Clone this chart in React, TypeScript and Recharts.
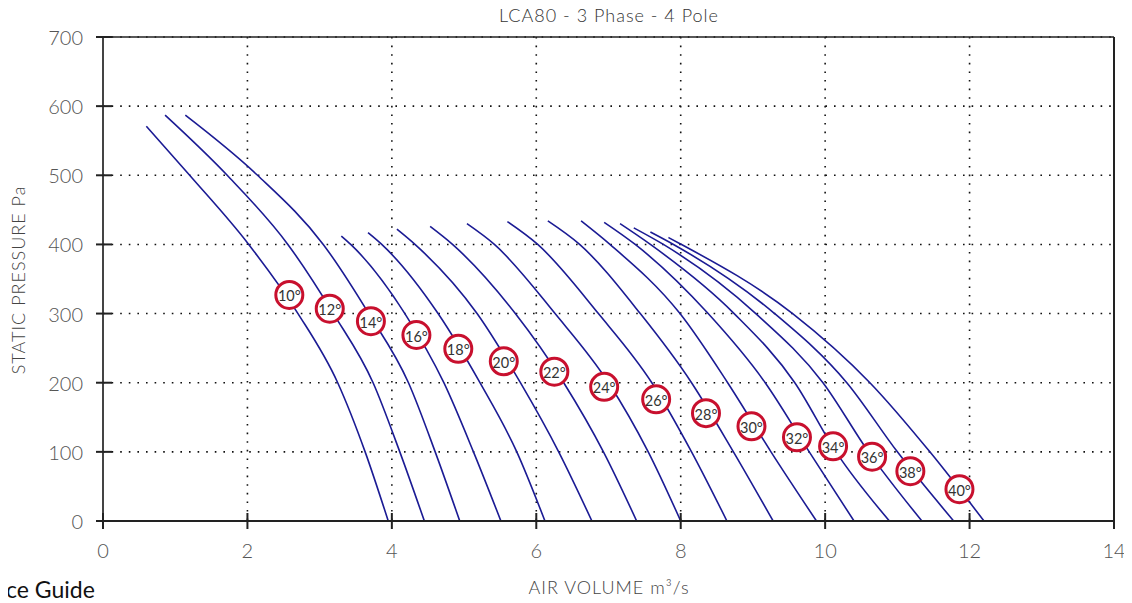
import React from 'react';
import { ComposedChart, Line, Scatter, XAxis, YAxis, CartesianGrid } from 'recharts';

// ---- data ----
const xTicks = [0, 2, 4, 6, 8, 10, 12, 14];
const yTicks = [0, 100, 200, 300, 400, 500, 600, 700];

const angleLabels = ['10°', '12°', '14°', '16°', '18°', '20°', '22°', '24°', '26°', '28°', '30°', '32°', '34°', '36°', '38°', '40°'];

// [air volume m3/s, static pressure Pa]
const c10 = [[0.6, 571], [1.2, 500], [2.01, 401], [2.7, 300], [3.25, 200], [3.63, 100], [3.95, 0]];
const c12 = [[0.86, 587], [1.72, 500], [2.56, 400], [3.19, 300], [3.74, 200], [4.11, 100], [4.45, 0]];
const c14 = [[1.14, 587], [2.14, 500], [3.05, 400], [3.68, 300], [4.23, 200], [4.6, 100], [4.94, 0]];
const c16 = [[3.3, 412], [3.43, 400], [4.18, 300], [4.72, 200], [5.13, 100], [5.51, 0]];
const c18 = [[3.67, 417], [3.86, 400], [4.64, 300], [5.22, 200], [5.73, 100], [6.12, 0]];
const c20 = [[4.07, 422], [4.32, 400], [5.18, 300], [5.78, 200], [6.31, 100], [6.77, 0]];
const c22 = [[4.53, 426], [4.84, 400], [5.71, 300], [6.38, 200], [6.93, 100], [7.39, 0]];
const c24 = [[5.04, 430], [5.42, 400], [6.26, 300], [7.0, 200], [7.55, 100], [8.0, 0]];
const c26 = [[5.6, 433], [6.02, 400], [6.86, 300], [7.6, 200], [8.15, 100], [8.64, 0]];
const c28 = [[6.16, 434], [6.6, 400], [7.44, 300], [8.15, 200], [8.73, 100], [9.28, 0]];
const c30 = [[6.62, 434], [7.02, 400], [7.99, 300], [8.65, 200], [9.25, 100], [9.88, 0]];
const c32 = [[6.94, 432], [7.37, 400], [8.38, 300], [9.17, 200], [9.78, 100], [10.4, 0]];
const c34 = [[7.16, 430], [7.58, 400], [8.74, 300], [9.58, 200], [10.15, 100], [10.89, 0]];
const c36 = [[7.35, 424], [7.76, 400], [9.04, 300], [9.97, 200], [10.6, 100], [11.34, 0]];
const c38 = [[7.58, 418], [7.9, 400], [9.3, 300], [10.3, 200], [11.0, 100], [11.78, 0]];
const c40 = [[7.83, 410], [8.01, 400], [9.55, 300], [10.62, 200], [11.45, 100], [12.2, 0]];

const curves = [c10, c12, c14, c16, c18, c20, c22, c24, c26, c28, c30, c32, c34, c36, c38, c40];

const labelX = [2.58, 3.14, 3.71, 4.34, 4.92, 5.55, 6.25, 6.94, 7.66, 8.35, 8.98, 9.61, 10.11, 10.65, 11.18, 11.86];
const labelY = [327, 307, 289, 269, 249, 231, 216, 194, 176, 156, 137, 121, 108, 93, 72, 46];

// ---- derived ----
const series = curves.map((pts) => pts.map(([x, y]) => ({ x, y })));
const badges = angleLabels.map((t, i) => ({ x: labelX[i], y: labelY[i], label: t }));

const FONT = 'Lato, "Open Sans", sans-serif';
const TICK_COLOR = '#555';
const AXIS_COLOR = '#222';
const LINE_COLOR = '#1b1b94';
const BADGE_COLOR = '#c8102e';

const BottomTick = (props: any) => {
  const { x, y, payload } = props;
  return (
    <g>
      <line x1={x} x2={x} y1={y - 8} y2={y + 8} stroke={AXIS_COLOR} strokeWidth={2} />
      <text x={x} y={y + 29} textAnchor="middle" dominantBaseline="central" fontSize={20} fontFamily={FONT} fontWeight={300} fill={TICK_COLOR}>
        {payload.value}
      </text>
    </g>
  );
};

const LeftTick = (props: any) => {
  const { x, y, payload } = props;
  return (
    <g>
      <line x1={x - 7} x2={x + 9} y1={y} y2={y} stroke={AXIS_COLOR} strokeWidth={2} />
      <text x={x - 20} y={y} textAnchor="end" dominantBaseline="central" fontSize={20} fontFamily={FONT} fontWeight={300} fill={TICK_COLOR}>
        {payload.value}
      </text>
    </g>
  );
};

const TopTick = (props: any) => {
  const { x, y } = props;
  return <line x1={x} x2={x} y1={y} y2={y + 7} stroke={AXIS_COLOR} strokeWidth={1.5} />;
};

const RightTick = (props: any) => {
  const { x, y } = props;
  return <line x1={x - 10} x2={x} y1={y} y2={y} stroke={AXIS_COLOR} strokeWidth={2} />;
};

const Badge = (props: any) => {
  const { cx, cy, payload } = props;
  if (cx == null || cy == null) return <g />;
  return (
    <g>
      <circle cx={cx} cy={cy} r={13.5} fill="#fff" stroke={BADGE_COLOR} strokeWidth={3} />
      <text x={cx} y={cy + 1} textAnchor="middle" dominantBaseline="central" fontSize={14.5} fontFamily={FONT} fill="#333">
        {payload.label}
      </text>
    </g>
  );
};

export default function App() {
  return (
    <div style={{ position: 'relative', width: 1124, height: 595, fontFamily: FONT }}>
      <ComposedChart width={1124} height={590} margin={{ top: 28, right: 17, bottom: 17, left: 0 }}>
        <CartesianGrid stroke="#111" strokeDasharray="1.6 7" strokeWidth={1.6} />
        <XAxis
          dataKey="x"
          type="number"
          domain={[0, 14]}
          ticks={xTicks}
          interval={0}
          allowDataOverflow
          orientation="bottom"
          height={60}
          axisLine={{ stroke: AXIS_COLOR, strokeWidth: 2 }}
          tickLine={false}
          tickSize={0}
          tickMargin={0}
          tick={BottomTick}
        />
        <XAxis
          xAxisId="t"
          dataKey="x"
          type="number"
          domain={[0, 14]}
          ticks={xTicks}
          interval={0}
          orientation="top"
          height={1}
          axisLine={{ stroke: AXIS_COLOR, strokeWidth: 1.5 }}
          tickLine={false}
          tickSize={0}
          tickMargin={0}
          tick={TopTick}
        />
        <YAxis
          dataKey="y"
          type="number"
          domain={[0, 700]}
          ticks={yTicks}
          interval={0}
          allowDataOverflow
          orientation="left"
          width={95}
          axisLine={{ stroke: '#444', strokeWidth: 2 }}
          tickLine={false}
          tickSize={0}
          tickMargin={0}
          tick={LeftTick}
        />
        <YAxis
          yAxisId="r"
          dataKey="y"
          type="number"
          domain={[0, 700]}
          ticks={yTicks}
          interval={0}
          orientation="right"
          width={1}
          axisLine={{ stroke: AXIS_COLOR, strokeWidth: 2 }}
          tickLine={false}
          tickSize={0}
          tickMargin={0}
          tick={RightTick}
        />
        {series.map((data, i) => (
          <Line
            key={angleLabels[i]}
            data={data}
            dataKey="y"
            type="monotone"
            stroke={LINE_COLOR}
            strokeWidth={1.6}
            dot={false}
            activeDot={false}
            isAnimationActive={false}
          />
        ))}
        <Scatter data={badges} dataKey="y" shape={Badge} isAnimationActive={false} />
      </ComposedChart>
      <div style={{ position: 'absolute', left: 251, width: 700, top: -3, textAlign: 'center', fontSize: 18, letterSpacing: 1, lineHeight: '20px', color: '#333', fontWeight: 300 }}>
        LCA80 - 3 Phase - 4 Pole
      </div>
      <div style={{ position: 'absolute', left: -140, top: 261, width: 300, height: 22, lineHeight: '22px', textAlign: 'center', fontSize: 18, letterSpacing: 1, color: '#444', fontWeight: 300, transform: 'rotate(-90deg)', transformOrigin: '150px 11px' }}>
        STATIC PRESSURE Pa
      </div>
      <div style={{ position: 'absolute', left: 401, width: 400, top: 568, textAlign: 'center', fontSize: 18, letterSpacing: 1, lineHeight: '22px', color: '#444', fontWeight: 300 }}>
        AIR VOLUME m³/s
      </div>
      <div style={{ position: 'absolute', left: -2, top: 568, fontSize: 23, lineHeight: '26px', color: '#111', whiteSpace: 'nowrap' }}>
        ce Guide
      </div>
    </div>
  );
}
